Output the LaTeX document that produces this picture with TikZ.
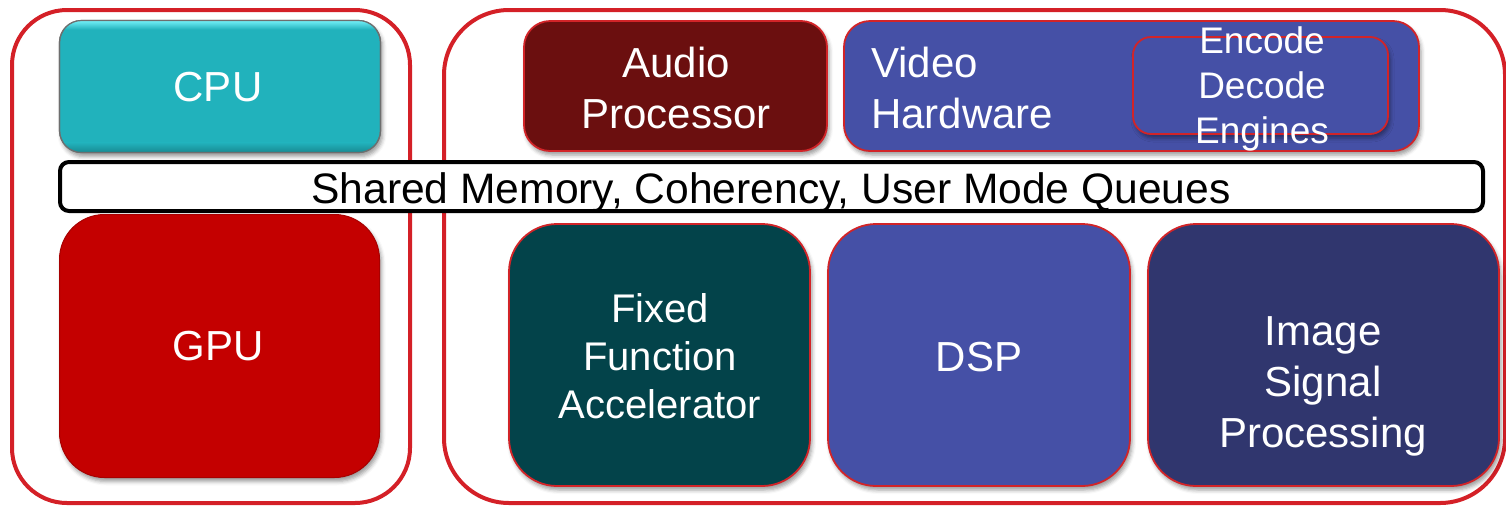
\documentclass[tikz,border=0pt]{standalone}
\usepackage{fontspec}
\setmainfont{Liberation Sans}
\usetikzlibrary{shadows.blur}

\definecolor{framered}{HTML}{D42027}
\definecolor{edgered}{HTML}{D22428}
\definecolor{cputeal}{HTML}{21B2BC}
\definecolor{cpulight}{HTML}{72F0F8}
\definecolor{cpudark}{HTML}{188A92}
\definecolor{cpuedge}{HTML}{6E6E6E}
\definecolor{gpured}{HTML}{C40000}
\definecolor{audiored}{HTML}{6B0F0F}
\definecolor{hwblue}{HTML}{4550A6}
\definecolor{ffteal}{HTML}{03434A}
\definecolor{ispnavy}{HTML}{30366E}

\begin{document}
\begin{tikzpicture}[x=1pt,y=-1pt,
  softshadow/.style={blur shadow={shadow xshift=2pt, shadow yshift=-4pt,
      shadow blur radius=4pt, shadow opacity=40}},
  zone/.style={rectangle, draw=framered, line width=4pt, rounded corners=#1,
      inner sep=0pt, outer sep=0pt},
  block/.style={rectangle, rounded corners=#1, draw=edgered, line width=1.8pt,
      inner sep=0pt, outer sep=0pt, softshadow},
  txt/.style={text=white, font=\fontsize{42}{51}\selectfont, inner sep=0pt,
      align=center},
]
\useasboundingbox (0,0) rectangle (1506,507);

% the two domains: CPU/GPU on the left, other engines on the right
\node[zone=55pt, minimum width=398pt, minimum height=493pt] (hostzone) at (211,256.5) {};
\node[zone=65pt, minimum width=1061pt, minimum height=493pt] (enginezone) at (974.5,256.5) {};

% shared memory bus across both domains
\node[rectangle, draw=black, fill=white, line width=4pt, rounded corners=9pt,
      minimum width=1423pt, minimum height=49pt, inner sep=0pt, outer sep=0pt]
      (shared) at (771.5,186.5) {};
\node[font=\fontsize{42.6}{51}\selectfont, inner sep=0pt, anchor=base]
      (shared-t) at (771,203) {Shared Memory, Coherency, User Mode Queues};

% CPU with a bevelled face
\node[block=22pt, draw=cpuedge, line width=1.2pt, fill=cputeal,
      minimum width=321pt, minimum height=132pt] (cpu) at (220,86.5) {};
\begin{scope}
  \clip[rounded corners=22pt] (cpu.north west) rectangle (cpu.south east);
  \shade[top color=cpulight, bottom color=cputeal]
    (cpu.north west) rectangle ([yshift=-9pt]cpu.north east);
  \shade[top color=cputeal, bottom color=cpudark]
    ([yshift=10pt]cpu.south west) rectangle (cpu.south east);
\end{scope}
\draw[cpuedge, line width=1.2pt, rounded corners=22pt]
  (cpu.north west) rectangle (cpu.south east);

% GPU
\node[block=45pt, draw=gpured!85!black, line width=1pt, fill=gpured,
      minimum width=320pt, minimum height=263pt] (gpu) at (219.5,346) {};

% top row of engines
\node[block=26pt, fill=audiored, minimum width=303pt, minimum height=130pt]
      (audio) at (675.5,86) {};
\node[block=26pt, fill=hwblue, minimum width=575pt, minimum height=130pt]
      (video) at (1131.5,86) {};
\node[block=18pt, fill=hwblue, minimum width=255pt, minimum height=97pt]
      (codec) at (1260.5,85.5) {};

% bottom row of engines
\node[block=48pt, fill=ffteal, minimum width=301pt, minimum height=262pt]
      (ffa) at (659.5,355) {};
\node[block=48pt, fill=hwblue, minimum width=302pt, minimum height=262pt]
      (dsp) at (979,355) {};
\node[block=48pt, fill=ispnavy, minimum width=351pt, minimum height=262pt]
      (isp) at (1323.5,355) {};

% labels
\node[txt] (cpu-t) at (218,87) {CPU};
\node[txt] (gpu-t) at (218,346) {GPU};
\node[txt] (audio-t) at (676,87.5) {Audio\\Processor};
\node[txt, align=left, anchor=west] (video-t) at (871,87.5) {Video\\Hardware};
\node[txt, font=\fontsize{37}{45}\selectfont] (codec-t) at (1262,89.3)
      {Encode\\Decode\\Engines};
\node[txt, font=\fontsize{40}{48}\selectfont] (ffa-t) at (660,356.5)
      {Fixed\\Function\\Accelerator};
\node[txt] (dsp-t) at (979,357) {DSP};
\node[txt] (isp-t) at (1323,386) {Image\\Signal\\Processing};
\end{tikzpicture}
\end{document}
